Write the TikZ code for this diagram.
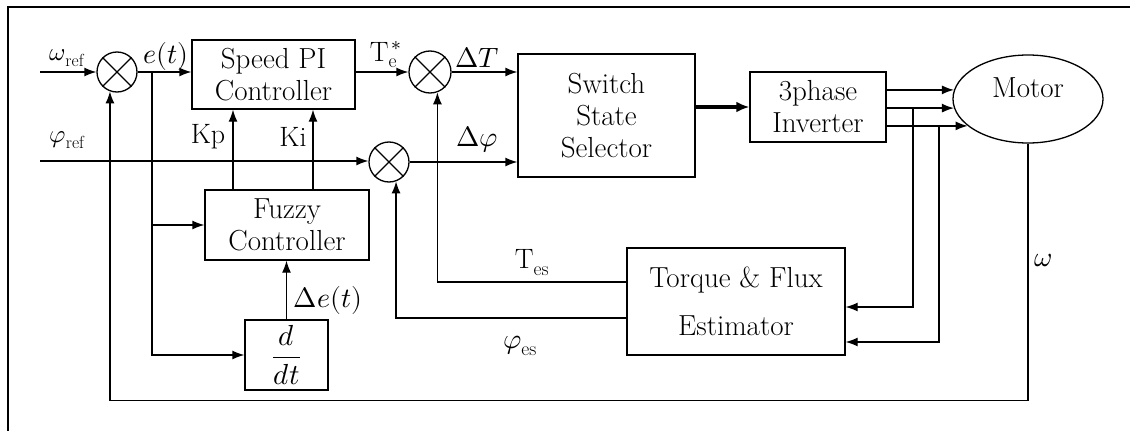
\documentclass[tikz,border=0pt]{standalone}
\usepackage{amsmath}
\usepackage{fontspec}
\usepackage{unicode-math}
\setmathfont{Latin Modern Math}
\usetikzlibrary{arrows.meta,positioning,calc,shapes.geometric}

\begin{document}
\begin{tikzpicture}[x=1pt,y=-1pt,line width=1.3pt,
    font=\fontsize{29}{32}\selectfont,
    block/.style={draw,rectangle,align=center,inner sep=0pt},
    junc/.style={draw,circle,minimum size=40pt,inner sep=0pt},
    sig/.style={-{Latex[length=12pt,width=9pt]}},
    lab/.style={inner sep=1pt,font=\fontsize{28}{30}\selectfont}]
    \useasboundingbox (0,0) rectangle (1130,431);
    \draw (8,431) |- (1130,7);
    % blocks
    \node[block,minimum width=163pt,minimum height=69pt] (pi) at (273.5,74.5) {Speed PI\\Controller};
    \node[block,minimum width=164pt,minimum height=70pt] (fz) at (287,225) {Fuzzy\\Controller};
    \node[block,minimum width=83pt,minimum height=70pt] (dd) at (286.5,355) {$\dfrac{d}{dt}$};
    \node[block,minimum width=177pt,minimum height=123pt] (sel) at (606.5,115.5) {Switch\\State\\Selector};
    \node[block,minimum width=136pt,minimum height=70pt] (inv) at (818,107) {3phase\\Inverter};
    \node[block,minimum width=218pt,minimum height=107pt] (est) at (736,301.5) {Torque \& Flux\\[16pt]Estimator};
    \node[draw,ellipse,minimum width=150pt,minimum height=88pt,inner sep=0pt,
      label={[yshift=11pt]center:Motor}] (mot) at (1028,99) {};
    % summing junctions
    \node[junc] (sw) at (117,72) {};
    \node[junc,minimum size=42pt] (st) at (430,72) {};
    \node[junc] (sf) at (389,162) {};
    \foreach \s in {sw,st,sf}
      \draw (\s.45) -- (\s.225) (\s.135) -- (\s.315);
    % inputs
    \coordinate (wi) at (40,72);
    \coordinate (fi) at (40,161);
    \draw[sig] (wi) -- (sw);
    \draw[sig] (fi) -- (fi -| sf.west);
    \draw[sig] (sw) -- (pi.west |- sw);
    \coordinate (eb) at (152,72);
    \draw[sig] (eb) |- (fz.west);
    \draw[sig] (eb) |- (dd.west);
    \draw[sig] (dd.north) -- (dd.north |- fz.south);
    \coordinate (kp) at (233,190);
    \coordinate (ki) at (313,190);
    \draw[sig] (kp) -- (kp |- pi.south);
    \draw[sig] (ki) -- (ki |- pi.south);
    \draw[sig] (pi.east |- st) -- (st);
    \draw[sig] (st) -- (st -| sel.west);
    \draw[sig] (sf) -- (sf -| sel.west);
    \draw[-{Latex[length=13pt,width=11pt]},line width=3.2pt] (sel.east |- inv.west) -- (inv.west);
    % phases to the motor
    \foreach \a in {173,187,204.5}
      \draw[sig] (inv.east |- mot.\a) -- (mot.\a);
    \coordinate (t1) at (913,108);
    \coordinate (t2) at (939,126);
    \draw[sig] (t1) |- ($(est.east)+(0,5.5)$);
    \draw[sig] (t2) |- ($(est.east)+(0,40.5)$);
    % estimates back
    \draw[sig] ($(est.west)+(0,-19.5)$) -| (st.290);
    \draw[sig] ($(est.west)+(0,16.5)$) -| (sf.290);
    % speed feedback
    \draw[sig] (mot.south) -- ++(0,257) -| (sw.250);
    % labels
    \node[lab,font=\fontsize{25}{28}\selectfont] at (67,58) {$\omega_{\mathrm{ref}}$};
    \node[lab,font=\fontsize{25}{28}\selectfont] at (67,140) {$\varphi_{\mathrm{ref}}$};
    \node[lab] at (166,56) {$e(t)$};
    \node[lab] at (208,137) {Kp};
    \node[lab] at (293,137) {Ki};
    \node[lab] at (386,55) {T$_{\mathrm{e}}^{\,*}$};
    \node[lab] at (477,57) {$\Delta T$};
    \node[lab] at (477,140) {$\Delta\varphi$};
    \node[lab] at (328,300) {$\Delta e(t)$};
    \node[lab] at (532,263) {T$_{\mathrm{es}}$};
    \node[lab] at (520,346) {$\varphi_{\mathrm{es}}$};
    \node[lab] at (1043,260) {$\omega$};
\end{tikzpicture}
\end{document}
